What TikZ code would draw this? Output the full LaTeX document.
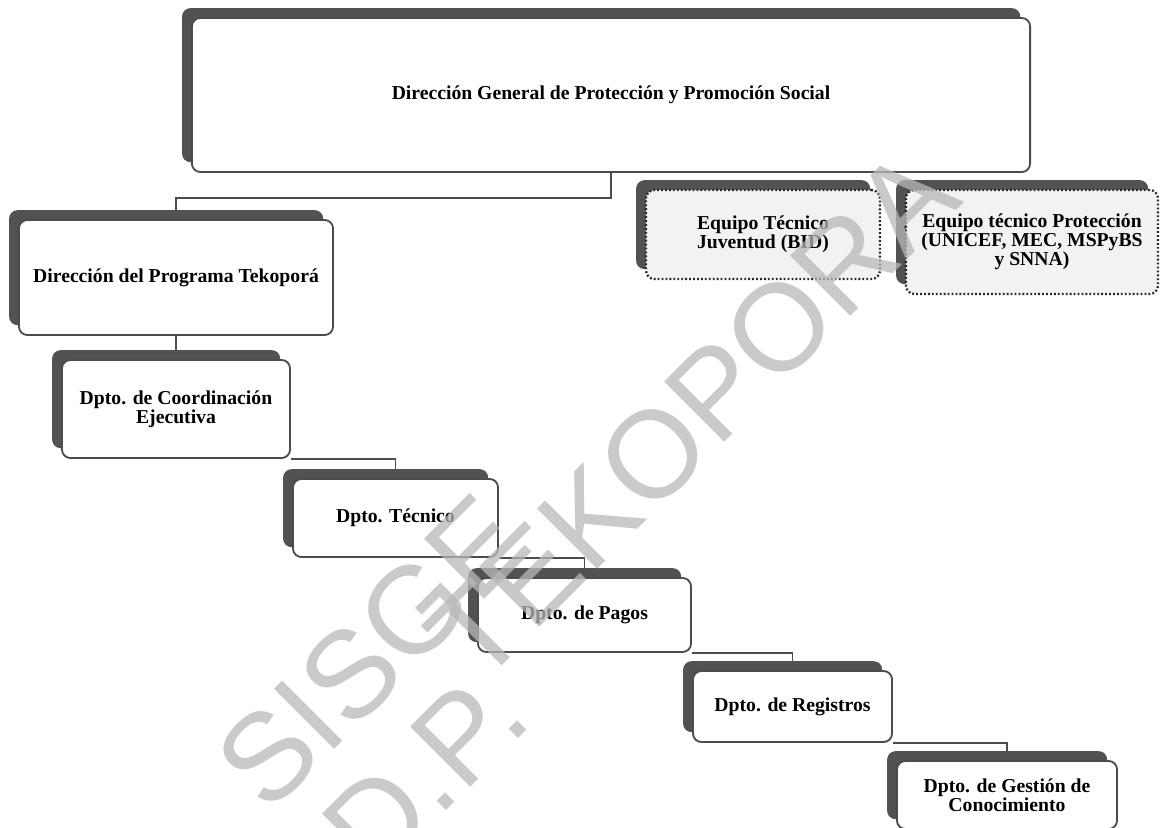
\documentclass[tikz,border=0pt]{standalone}
\usepackage{fontspec}
\setmainfont{Liberation Serif}
\newfontfamily\markfont{Liberation Sans}
\usetikzlibrary{shadows,backgrounds}

\tikzset{
  unit/.style={draw=black!70, line width=1.3pt, rounded corners=6pt, fill=white,
    align=center, inner sep=2pt, font=\fontsize{14}{13.5}\selectfont\bfseries,
    general shadow={fill=black!68, shadow xshift=-7pt, shadow yshift=7pt}},
  team/.style={unit, draw=black!85, line width=1.6pt, dash pattern=on 1.3pt off 1.5pt,
    fill=black!5},
  link/.style={draw=black!70, line width=1.2pt},
  watermark/.style={text=black!28, opacity=0.75, rotate=45, font=\markfont\fontsize{88}{88}\selectfont}
}

\begin{document}
\begin{tikzpicture}[x=0.025cm, y=-0.025cm]
\useasboundingbox (0,0) rectangle (1160,828);

\node[unit, minimum width=20.95cm, minimum height=3.85cm] (dgpps) at (611,95) {Dirección General de Protección y Promoción Social};

\node[team, minimum width=5.85cm, minimum height=2.225cm] (juventud) at (763,234.5) {Equipo Técnico\\Juventud (BID)};
\node[team, minimum width=6.3cm, minimum height=2.6cm] (proteccion) at (1032,242) {Equipo técnico Protección\\(UNICEF, MEC, MSPyBS\\y SNNA)};

\node[unit, minimum width=7.85cm, minimum height=2.875cm] (tekopora) at (176,277.5) {Dirección del Programa Tekoporá};
\node[unit, minimum width=5.7cm, minimum height=2.45cm] (coord) at (176,409) {Dpto. de Coordinación\\Ejecutiva};
\node[unit, minimum width=5.125cm, minimum height=1.95cm] (tecnico) at (395.5,518) {Dpto. Técnico};
\node[unit, minimum width=5.325cm, minimum height=1.85cm] (pagos) at (584.5,615) {Dpto. de Pagos};
\node[unit, minimum width=4.975cm, minimum height=1.775cm] (registros) at (792.5,706.5) {Dpto. de Registros};
\node[unit, minimum width=5.5cm, minimum height=1.7cm] (gestion) at (1007,795) {Dpto. de Gestión de\\Conocimiento};

\begin{scope}[on background layer]
\draw[link] (dgpps.south) -- ++(0,25) -| (tekopora.north);
\draw[link] (tekopora.south) -- (coord.north);
\draw[link] (coord.south east) -| (tecnico.north);
\draw[link] (tecnico.south east) -| (pagos.north);
\draw[link] (pagos.south east) -| (registros.north);
\draw[link] (registros.south east) -| (gestion.north);
\end{scope}

\node[watermark] (sisge) at (372,652) {SISGE};
\node[watermark] (dp) at (425,772) {D.P.};
\node[watermark] (tekomark) at (692,415) {TEKOPORA};

\end{tikzpicture}
\end{document}
